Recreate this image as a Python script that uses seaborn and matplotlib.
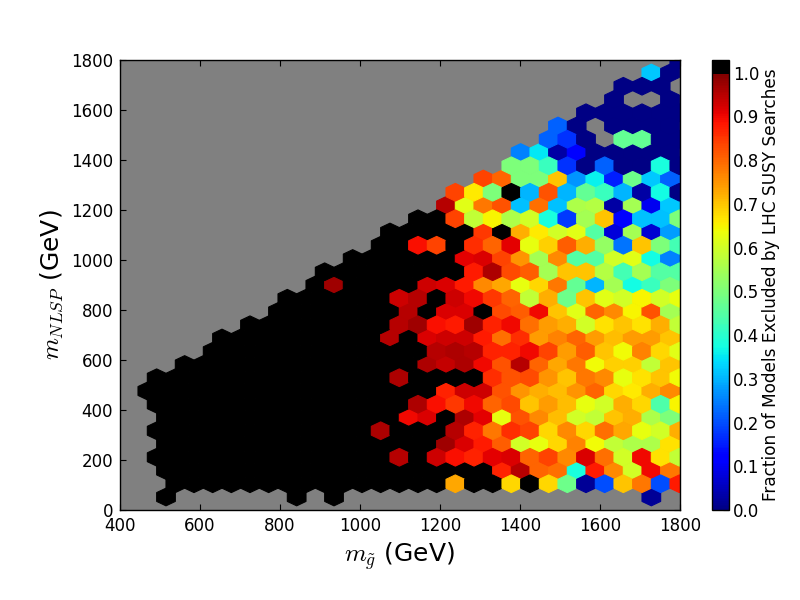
import numpy as np
import pandas as pd
import seaborn as sns
import matplotlib.pyplot as plt
from matplotlib.colors import ListedColormap

# fraction excluded per hexagon, one list per row of the hex grid (bottom to top)
# None = no models in that cell (grey background shows through)
row_00 = [1.0, None, None, None, None, None, None, 1.0, None, 1.0, None, None, None, None, None, None, None, None, None, None, None, None, None, None, None, None, 0.02]
row_01 = [1.0, 1.0, 1.0, 1.0, 1.0, 1.0, 1.0, 1.0, 1.0, 1.0, 1.0, 1.0, 1.0, 1.0, 1.0, 0.73, 1.0, 1.0, 0.68, 1.0, 0.68, 0.48, 0.02, 0.2, 0.7, 0.78, 0.2, 0.88]
row_02 = [1.0, 1.0, 1.0, 1.0, 1.0, 1.0, 1.0, 1.0, 1.0, 1.0, 1.0, 1.0, 1.0, 1.0, 1.0, 1.0, 1.0, 1.0, 0.87, 0.95, 0.8, 0.79, 0.38, 0.88, 0.76, 0.6, 0.9, 0.78]
row_03 = [1.0, 1.0, 1.0, 1.0, 1.0, 1.0, 1.0, 1.0, 1.0, 1.0, 1.0, 1.0, 1.0, 0.95, 1.0, 0.93, 0.89, 0.87, 0.91, 0.92, 0.8, 0.84, 0.76, 0.92, 0.79, 0.6, 0.9, 0.67, 0.58]
row_04 = [1.0, 1.0, 1.0, 1.0, 1.0, 1.0, 1.0, 1.0, 1.0, 1.0, 1.0, 1.0, 1.0, 1.0, 1.0, 0.97, 0.92, 0.88, 0.81, 0.6, 0.63, 0.68, 0.77, 0.64, 0.58, 0.56, 0.56, 0.67]
row_05 = [1.0, 1.0, 1.0, 1.0, 1.0, 1.0, 1.0, 1.0, 1.0, 1.0, 1.0, 1.0, 0.96, 1.0, 1.0, 1.0, 0.95, 0.87, 0.78, 0.86, 0.84, 0.68, 0.76, 0.68, 0.79, 0.73, 0.63, 0.6, 0.72]
row_06 = [1.0, 1.0, 1.0, 1.0, 1.0, 1.0, 1.0, 1.0, 1.0, 1.0, 1.0, 1.0, 1.0, 0.9, 0.92, 1.0, 0.96, 0.91, 0.63, 0.82, 0.76, 0.71, 0.6, 0.58, 0.7, 0.72, 0.56, 0.5]
row_07 = [1.0, 1.0, 1.0, 1.0, 1.0, 1.0, 1.0, 1.0, 1.0, 1.0, 1.0, 1.0, 1.0, 1.0, 0.96, 0.89, 0.85, 0.9, 0.8, 0.83, 0.7, 0.74, 0.71, 0.63, 0.6, 0.72, 0.68, 0.44, 0.65]
row_08 = [1.0, 1.0, 1.0, 1.0, 1.0, 1.0, 1.0, 1.0, 1.0, 1.0, 1.0, 1.0, 1.0, 1.0, 1.0, 1.0, 0.87, 0.93, 0.93, 0.82, 0.75, 0.72, 0.71, 0.75, 0.8, 0.68, 0.66, 0.72, 0.76]
row_09 = [1.0, 1.0, 1.0, 1.0, 1.0, 1.0, 1.0, 1.0, 1.0, 1.0, 1.0, 1.0, 1.0, 0.96, 1.0, 1.0, 1.0, 1.0, 0.86, 0.82, 0.83, 0.75, 0.7, 0.78, 0.76, 0.63, 0.67, 0.7, 0.64]
row_10 = [1.0, 1.0, 1.0, 1.0, 1.0, 1.0, 1.0, 1.0, 1.0, 1.0, 1.0, 1.0, 1.0, 0.96, 0.94, 0.96, 0.9, 0.82, 0.95, 0.8, 0.73, 0.78, 0.64, 0.69, 0.69, 0.58, 0.7]
row_11 = [1.0, 1.0, 1.0, 1.0, 1.0, 1.0, 1.0, 1.0, 1.0, 1.0, 1.0, 1.0, 0.95, 0.96, 0.95, 0.87, 0.87, 0.9, 0.84, 0.74, 0.81, 0.7, 0.64, 0.77, 0.68, 0.62]
row_12 = [1.0, 1.0, 1.0, 1.0, 1.0, 1.0, 1.0, 1.0, 1.0, 0.95, 1.0, 0.92, 0.93, 0.93, 0.88, 0.79, 0.86, 0.74, 0.77, 0.8, 0.74, 0.71, 0.74, 0.74, 0.7]
row_13 = [1.0, 1.0, 1.0, 1.0, 1.0, 1.0, 1.0, 1.0, 0.95, 0.97, 0.89, 0.88, 0.97, 0.87, 0.9, 0.79, 0.74, 0.72, 0.6, 0.67, 0.7, 0.67, 0.72, 0.58]
row_14 = [1.0, 1.0, 1.0, 1.0, 1.0, 1.0, 1.0, 0.95, 1.0, 0.92, 0.92, 1.0, 0.83, 0.81, 0.9, 0.7, 0.62, 0.8, 0.76, 0.65, 0.82, 0.55]
row_15 = [1.0, 1.0, 1.0, 1.0, 1.0, 1.0, 0.93, 0.95, 1.0, 0.93, 0.9, 0.85, 0.8, 0.58, 0.72, 0.48, 0.7, 0.62, 0.6, 0.65, 0.6, 0.63]
row_16 = [1.0, 0.97, 1.0, 1.0, 1.0, 1.0, 0.93, 0.92, 0.88, 0.76, 0.73, 0.63, 0.68, 0.78, 0.47, 0.3, 0.55, 0.37, 0.42, 0.5]
row_17 = [1.0, 1.0, 1.0, 1.0, 1.0, 1.0, 1.0, 1.0, 0.88, 0.96, 0.83, 0.81, 0.55, 0.7, 0.7, 0.57, 0.43, 0.55, 0.45, 0.45]
row_18 = [1.0, 1.0, 1.0, 1.0, 1.0, 1.0, 0.91, 0.92, 0.84, 0.75, 0.55, 0.76, 0.45, 0.45, 0.6, 0.62, 0.37, 0.25]
row_19 = [1.0, 1.0, 0.89, 0.84, 1.0, 0.86, 0.8, 0.91, 0.63, 0.69, 0.81, 0.72, 0.53, 0.24, 0.7, 0.5, 0.43]
row_20 = [1.0, 1.0, 1.0, 1.0, 1.0, 0.85, 1.0, 0.72, 0.66, 0.6, 0.62, 0.45, 0.08, 0.55, 0.07, 0.28]
row_21 = [1.0, 1.0, 0.84, 0.58, 0.65, 0.56, 0.6, 0.38, 0.18, 0.55, 0.7, 0.12, 0.31, 0.31, 0.5]
row_22 = [0.95, 0.62, 0.78, 0.82, 0.31, 0.79, 0.31, 0.56, 0.57, 0.03, 0.55, 0.1, 0.32]
row_23 = [0.84, 0.66, 0.5, 1.0, 0.3, 0.82, 0.3, 0.47, 0.42, 0.3, 0.03, 0.37, 0.0]
row_24 = [0.84, 0.8, 0.5, 0.5, 0.7, 0.27, 0.36, 0.15, 0.48, 0.32, 0.22]
row_25 = [0.5, 0.5, 0.42, 0.17, 0.0, 0.22, 0.0, 0.0, 0.38, 0.0]
row_26 = [0.25, 0.35, 0.03, 0.12, 0.0, 0.0, 0.0, 0.0, 0.0]
row_27 = [0.22, 0.17, 0.0, None, 0.47, 0.47, 0.0, 0.0]
row_28 = [0.22, 0.0, None, 0.0, 0.0, 0.0, 0.0]
row_29 = [0.0, 0.0, 0.0, 0.0, 0.0, 0.0]
row_30 = [0.0, None, None, 0.0]
row_31 = [0.0, 0.0, 0.0, None]
row_32 = [0.32, 0.0]
row_33 = [0.0]

# first occupied column of each row
row_first_col = [0, 0, 0, -1, 0, -1, 0, -1, -1, -1, 1, 2, 3, 4, 6, 6, 8, 8, 10, 11,
                 12, 13, 15, 15, 17, 18, 19, 20, 21, 22, 24, 24, 26, 27]

all_rows = [row_00, row_01, row_02, row_03, row_04, row_05, row_06, row_07, row_08,
            row_09, row_10, row_11, row_12, row_13, row_14, row_15, row_16, row_17,
            row_18, row_19, row_20, row_21, row_22, row_23, row_24, row_25, row_26,
            row_27, row_28, row_29, row_30, row_31, row_32, row_33]

x_ticks = [400, 600, 800, 1000, 1200, 1400, 1600, 1800]
y_ticks = [0, 200, 400, 600, 800, 1000, 1200, 1400, 1600, 1800]
cbar_ticks = [0.0, 0.1, 0.2, 0.3, 0.4, 0.5, 0.6, 0.7, 0.8, 0.9, 1.0]

# bin size of the hex grid in GeV
dx = 1400 / 30
dy = 106.0
x0, y0 = 515.0, 52.0

records = []
for r, (first, vals) in enumerate(zip(row_first_col, all_rows)):
    for i, v in enumerate(vals):
        if v is None:
            continue
        x = x0 + (first + i) * dx + (r % 2) * dx / 2
        records.append((x, y0 + r * dy / 2, v))
df = pd.DataFrame(records, columns=["m_gluino", "m_nlsp", "frac"])

sns.set_style("ticks")
plt.rcParams["font.family"] = ["DejaVu Sans"]
plt.rcParams["mathtext.fontset"] = "cm"
plt.rcParams["text.color"] = "black"
plt.rcParams["axes.labelcolor"] = "black"
plt.rcParams["xtick.color"] = "black"
plt.rcParams["ytick.color"] = "black"

# jet up to 1.0, black for fully excluded bins
jet_black = ListedColormap(sns.mpl_palette("jet", 248) + [(0, 0, 0)] * 8)

fig = plt.figure(figsize=(8, 6), dpi=100)
ax = fig.add_axes([0.15, 0.15, 0.70, 0.75])
cax = fig.add_axes([0.89, 0.15, 0.021, 0.75])

hb = ax.hexbin(df["m_gluino"], df["m_nlsp"], C=df["frac"], reduce_C_function=np.mean,
               gridsize=(31, 18), extent=(x0 - 3 * dx, x0 + 28 * dx, y0 - dy, y0 + 17 * dy),
               cmap=jet_black, vmin=0, vmax=1.029, edgecolors="face", linewidths=0.8)

ax.set_facecolor("#808080")
ax.set_xlim(400, 1800)
ax.set_ylim(0, 1800)
ax.set_xticks(x_ticks)
ax.set_yticks(y_ticks)
ax.tick_params(direction="in", length=4, width=0.8, top=True, right=True,
               labelsize=12, pad=5)
for s in ax.spines.values():
    s.set_linewidth(1.0)
    s.set_color("black")
ax.set_xlabel(r"$m_{\tilde{g}}$ (GeV)", fontsize=18, labelpad=4)
ax.set_ylabel(r"$m_{NLSP}$ (GeV)", fontsize=18, labelpad=4)

cb = fig.colorbar(hb, cax=cax, ticks=cbar_ticks)
cb.ax.set_yticklabels(["%.1f" % t for t in cbar_ticks])
cb.ax.tick_params(direction="in", length=4, width=0.8, labelsize=12, pad=3)
cb.outline.set_linewidth(1.0)
cb.outline.set_edgecolor("black")
cb.set_label("Fraction of Models Excluded by LHC SUSY Searches", fontsize=12.2, labelpad=2)

plt.savefig("out.png", dpi=100)
